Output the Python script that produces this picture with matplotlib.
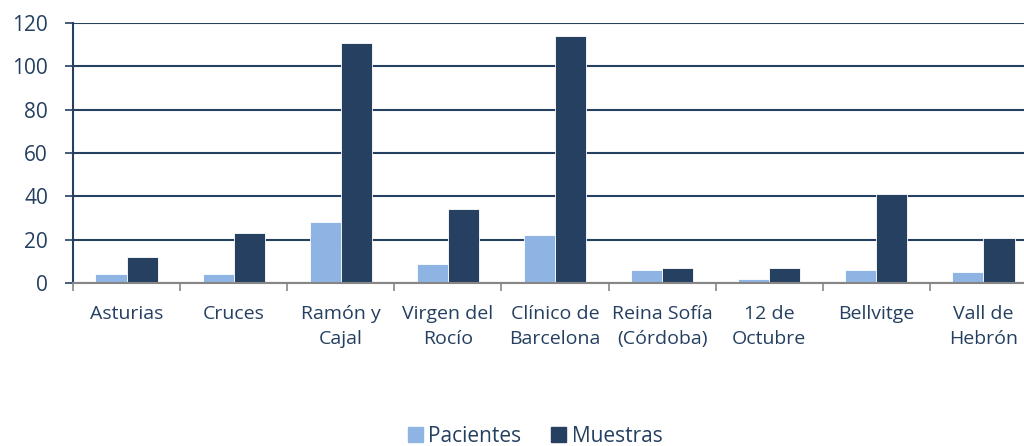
import matplotlib
matplotlib.use("Agg")
import matplotlib.pyplot as plt
import numpy as np
from matplotlib.patches import Patch

categories = ["Asturias", "Cruces", "Ramón y\nCajal", "Virgen del\nRocío", "Clínico de\nBarcelona",
              "Reina Sofía\n(Córdoba)", "12 de\nOctubre", "Bellvitge", "Vall de\nHebrón"]
pacientes = [4, 4, 28, 9, 22, 6, 2, 6, 5]
muestras = [12, 23, 111, 34, 114, 7, 7, 41, 21]
yticks = [0, 20, 40, 60, 80, 100, 120]

C_P = "#8EB4E3"
C_M = "#254061"
TXT = "#243F60"

plt.rcParams['font.family'] = ['Open Sans', 'DejaVu Sans']

fig = plt.figure(figsize=(10.24, 4.46), dpi=100)
ax = fig.add_axes([73/1024, 1-283/446, (1037-73)/1024, 260/446])

x = np.arange(len(categories))
w = 0.29
ax.bar(x - w/2, pacientes, w, color=C_P, edgecolor="white", linewidth=0.6, zorder=3, label="Pacientes")
ax.bar(x + w/2, muestras, w, color=C_M, edgecolor="white", linewidth=0.6, zorder=3, label="Muestras")

ax.set_xlim(-0.5, len(categories) - 0.5)
ax.set_ylim(0, 120)
ax.set_yticks(yticks)
ax.set_yticklabels([str(v) for v in yticks], fontsize=15, color=TXT)
ax.yaxis.grid(True, color=C_M, linewidth=1.5, zorder=1)
ax.set_axisbelow(True)

ax.set_xticks(x)
ax.set_xticklabels(categories, fontsize=14, color=TXT)
for t in ax.get_xticklabels():
    t.set_linespacing(1.45)
ax.set_xticks(np.arange(-0.5, len(categories), 1), minor=True)
ax.tick_params(axis='x', which='major', length=0, pad=16)
ax.tick_params(axis='x', which='minor', length=6, width=1.2, color="#868686", direction='out')
ax.tick_params(axis='y', length=6, width=1.2, color=C_M, pad=12)

for s in ["top", "right"]:
    ax.spines[s].set_visible(False)
ax.spines["left"].set_color(C_M)
ax.spines["left"].set_linewidth(1.5)
ax.spines["bottom"].set_color("#868686")
ax.spines["bottom"].set_linewidth(1.5)
ax.spines["bottom"].set_zorder(4)

handles = [Patch(color=C_P, label="Pacientes"), Patch(color=C_M, label="Muestras")]
fig.legend(handles=handles, loc="center", bbox_to_anchor=(535/1024, 1-436/446), ncol=2,
           frameon=False, fontsize=15, labelcolor=TXT, handlelength=0.75, handleheight=0.75,
           handletextpad=0.25, columnspacing=1.4)

fig.savefig("out.png", dpi=100)
